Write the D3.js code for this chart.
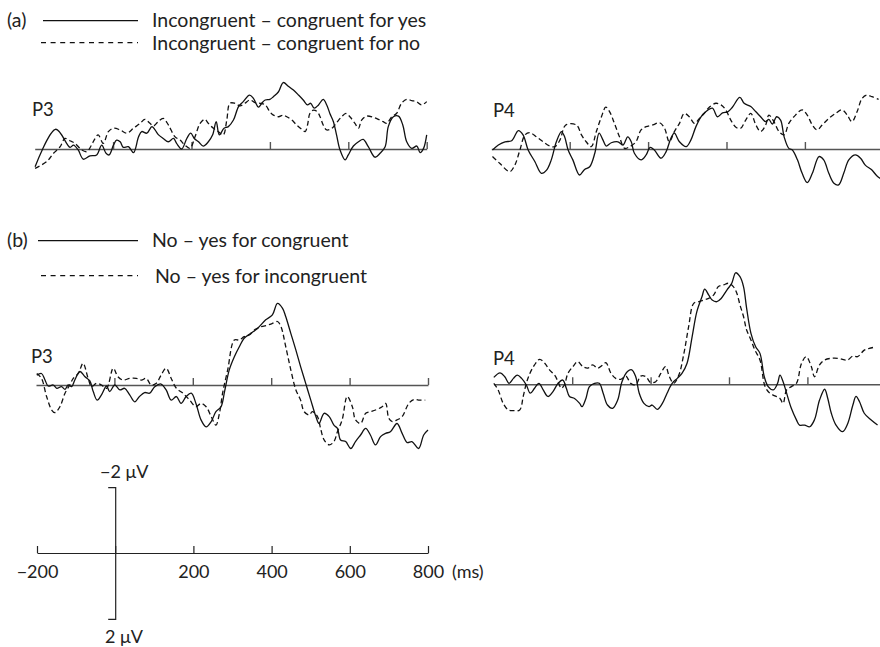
<!DOCTYPE html>
<html>
<head>
<meta charset="utf-8">
<style>
    body { margin: 0; background: #fff; }
    svg { display: block; font-family: Lato, 'Open Sans', sans-serif; }
    .wave { fill: none; stroke: #111; stroke-width: 1.3; stroke-linejoin: round; }
    .wave.dash { stroke-dasharray: 5 3; }
    .base .domain, .base .tick line { stroke: #555; stroke-width: 1.4; }
    .scale .domain, .scale .tick line { stroke: #222; stroke-width: 1.2; }
    .scale .tick text { font-size: 18px; fill: #222; font-family: Lato, sans-serif; }
</style>
</head>
<body>
<svg width="880" height="647"></svg>
<script src="https://d3js.org/d3.v7.min.js"></script>
<script>
// ERP difference waves, [ms, microvolts] (negative plotted upward)
let p3aSolid = [[-199,0.54],[-146,-0.60],[-110,-0.05],[-101,-0.12],[-89,0.03],[-76,0.31],[-59,0.21],[-42,0.18],[-29,-0.12],[-18,0.13],[-10,0.18],[1,-0.12],[9,-0.27],[18,-0.22],[26,-0.05],[39,-0.07],[52,0.11],[65,-0.37],[73,-0.53],[86,-0.48],[99,-0.68],[107,-0.58],[116,-0.43],[128,-0.32],[141,-0.22],[154,-0.32],[162,-0.17],[175,0.0],[188,-0.32],[198,-0.48],[207,-0.32],[218,-0.22],[230,-0.09],[243,-0.22],[254,-0.43],[263,-0.83],[271,-0.43],[283,-0.63],[294,-0.68],[307,-0.88],[320,-1.29],[332,-1.44],[348,-1.64],[358,-1.54],[371,-1.27],[379,-1.39],[388,-1.49],[400,-1.51],[409,-1.59],[422,-1.74],[434,-2.02],[447,-1.91],[460,-1.79],[473,-1.64],[485,-1.49],[496,-1.34],[504,-1.39],[513,-1.24],[524,-1.34],[536,-1.51],[545,-1.34],[553,-1.08],[562,-0.83],[570,-0.43],[579,0.03],[592,0.33],[600,0.18],[613,-0.09],[626,-0.22],[638,-0.29],[651,-0.07],[668,0.25],[681,0.13],[694,-0.07],[702,-0.68],[715,-0.98],[728,-1.0],[739,-0.73],[749,-0.22],[762,-0.02],[775,-0.09],[783,0.11],[792,-0.02],[800,-0.43]];
let p3aDashed = [[-199,0.59],[-169,0.38],[-152,0.13],[-135,-0.07],[-123,-0.32],[-110,-0.25],[-97,-0.17],[-80,0.03],[-67,0.08],[-55,-0.12],[-46,-0.32],[-38,-0.43],[-25,-0.17],[-12,-0.53],[1,-0.63],[18,-0.58],[35,-0.48],[52,-0.63],[69,-0.78],[81,-0.90],[94,-0.78],[103,-0.70],[115,-0.83],[128,-0.93],[141,-0.73],[158,-0.37],[171,-0.27],[183,-0.12],[196,-0.02],[209,-0.37],[222,-0.78],[234,-0.90],[243,-0.78],[256,-0.63],[268,-0.53],[281,-0.43],[290,-0.88],[298,-1.39],[311,-1.39],[324,-1.31],[336,-1.39],[349,-1.49],[362,-1.41],[375,-1.39],[388,-1.34],[400,-1.13],[409,-1.03],[422,-0.98],[434,-1.03],[443,-0.98],[456,-0.88],[468,-0.73],[481,-0.60],[490,-0.53],[496,-0.73],[502,-1.08],[511,-1.18],[521,-1.13],[528,-0.98],[536,-0.73],[545,-0.58],[558,-0.63],[570,-0.80],[583,-0.98],[594,-1.08],[604,-0.98],[617,-0.78],[626,-0.63],[634,-0.88],[647,-1.0],[664,-0.96],[677,-0.90],[689,-0.83],[698,-0.78],[711,-0.98],[723,-1.08],[736,-1.39],[749,-1.51],[762,-1.47],[774,-1.44],[787,-1.34],[800,-1.44]];
let p4aSolid = [[-197,0.03],[-182,-0.12],[-165,-0.22],[-148,-0.25],[-131,-0.56],[-119,-0.43],[-106,0.03],[-89,0.38],[-72,0.74],[-59,0.64],[-47,0.33],[-34,-0.22],[-21,-0.53],[-13,-0.37],[-4,0.03],[8,0.33],[25,0.79],[38,0.62],[51,0.54],[64,0.13],[75,-0.48],[85,-0.27],[93,-0.09],[106,-0.19],[123,-0.22],[136,-0.12],[148,-0.37],[157,-0.22],[165,0.13],[182,0.33],[195,0.18],[205,-0.05],[216,0.03],[233,0.28],[246,0.08],[258,-0.32],[267,-0.48],[280,-0.22],[297,-0.07],[309,-0.27],[322,-0.68],[335,-0.98],[347,-1.13],[364,-1.24],[377,-0.98],[390,-1.10],[403,-1.13],[415,-1.27],[434,-1.57],[445,-1.39],[462,-1.29],[475,-1.13],[487,-0.98],[500,-0.83],[508,-0.90],[517,-0.76],[528,-0.98],[538,-0.88],[547,-0.37],[559,-0.02],[568,0.03],[581,0.33],[593,0.74],[606,1.02],[619,0.74],[636,0.23],[648,0.33],[661,0.74],[674,1.04],[686,1.09],[699,0.74],[712,0.33],[729,0.18],[742,0.28],[754,0.49],[771,0.64],[784,0.82],[800,0.95]];
let p4aDashed = [[-197,0.23],[-178,0.44],[-153,0.69],[-140,0.49],[-127,0.03],[-114,-0.43],[-102,-0.50],[-85,-0.37],[-68,-0.22],[-51,-0.09],[-38,-0.07],[-25,-0.27],[-10,-0.73],[17,-0.73],[30,-0.43],[42,-0.22],[55,-0.07],[68,-0.53],[81,-0.98],[92,-1.27],[102,-1.13],[114,-0.78],[127,-0.37],[140,-0.02],[153,-0.07],[169,-0.22],[182,-0.58],[195,-0.68],[212,-0.73],[229,-0.80],[242,-0.63],[254,-0.22],[267,-0.53],[280,-0.78],[292,-1.08],[305,-0.98],[318,-0.78],[331,-0.93],[343,-1.08],[356,-1.27],[373,-1.39],[386,-1.34],[398,-1.19],[411,-0.88],[424,-0.66],[436,-0.63],[449,-0.88],[462,-1.08],[475,-0.73],[487,-0.53],[500,-0.73],[508,-1.03],[521,-0.83],[534,-0.53],[547,-0.43],[559,-0.78],[576,-1.03],[593,-1.19],[606,-1.03],[619,-0.73],[631,-0.58],[644,-0.73],[661,-0.93],[678,-1.08],[695,-1.19],[708,-1.03],[720,-0.83],[733,-1.13],[746,-1.54],[758,-1.64],[771,-1.59],[788,-1.51]];
let p3bSolid = [[-198,-0.30],[-186,-0.35],[-177,-0.15],[-169,0.03],[-156,0],[-147,0.10],[-135,0.05],[-126,0.13],[-118,0],[-109,0.05],[-101,-0.15],[-88,-0.41],[-75,-0.25],[-63,-0.13],[-54,0.20],[-44,0.46],[-33,0.30],[-20,0.03],[-12,0.20],[1,0],[14,0.15],[26,0.10],[39,0.30],[52,0.51],[64,0.35],[77,0.23],[90,0.25],[103,0.05],[119,-0.03],[132,0.15],[145,0.46],[158,0.35],[170,0.56],[183,0.35],[196,0.25],[208,0.56],[221,1.06],[234,1.27],[247,1.11],[259,0.81],[272,0.66],[281,0.20],[293,-0.46],[306,-0.86],[319,-1.17],[331,-1.42],[348,-1.57],[365,-1.72],[386,-1.98],[403,-2.13],[416,-2.48],[429,-2.33],[437,-2.08],[450,-1.57],[463,-1.06],[475,-0.56],[488,-0.05],[501,0.46],[514,0.96],[522,1.17],[535,0.86],[548,0.96],[560,1.22],[569,1.32],[577,1.67],[590,1.72],[603,1.93],[615,1.72],[628,1.52],[641,1.32],[653,1.52],[666,1.82],[679,1.57],[692,1.47],[704,1.42],[721,1.17],[734,1.47],[747,1.75],[759,1.72],[776,1.93],[789,1.52],[800,1.37]];
let p3bDashed = [[-198,-0.35],[-186,-0.20],[-173,0.35],[-160,0.76],[-152,0.84],[-139,0.66],[-126,0.25],[-114,0],[-105,-0.20],[-92,-0.35],[-80,-0.66],[-67,-0.20],[-58,0.05],[-46,-0.05],[-33,0],[-20,0.10],[-3,-0.51],[9,-0.25],[22,-0.15],[39,-0.20],[56,-0.20],[69,-0.15],[81,-0.20],[94,0],[107,-0.05],[119,-0.30],[132,-0.51],[145,-0.20],[158,0.10],[175,0.25],[192,0.46],[208,0.66],[221,0.56],[234,0.66],[247,0.96],[259,1.22],[268,0.86],[276,0.25],[289,-0.46],[306,-1.37],[319,-1.37],[331,-1.47],[344,-1.52],[357,-1.67],[374,-1.77],[391,-1.82],[403,-1.87],[416,-1.93],[425,-1.77],[437,-1.17],[450,-0.46],[463,0.15],[475,0.46],[484,0.81],[497,0.91],[505,0.81],[518,0.96],[526,1.32],[535,1.67],[548,1.82],[560,1.72],[569,1.42],[581,1.06],[594,0.35],[607,0.66],[615,1.06],[628,1.17],[641,0.86],[653,0.81],[666,0.76],[683,0.66],[692,0.56],[700,1.01],[709,1.11],[721,1.06],[734,0.96],[751,0.56],[764,0.44],[776,0.46],[793,0.46]];
let p4bSolid = [[-200,-0.21],[-184,-0.35],[-172,-0.23],[-161,-0.03],[-150,-0.18],[-140,-0.28],[-129,-0.18],[-117,0.02],[-107,0.27],[-96,0.12],[-85,-0.03],[-74,0.17],[-62,0.37],[-49,0.22],[-36,-0.03],[-24,-0.13],[-15,0.12],[-7,0.37],[6,0.43],[19,0.58],[25,0.68],[35,0.43],[44,0.07],[57,-0.03],[69,-0.03],[79,0.27],[90,0.63],[103,0.73],[116,0.48],[127,-0.08],[141,-0.39],[152,-0.44],[162,-0.23],[171,0.27],[183,0.58],[196,0.68],[204,0.63],[217,0.76],[230,0.58],[242,0.27],[255,-0.03],[268,-0.18],[280,-0.33],[293,-0.64],[306,-1.45],[318,-2.21],[331,-2.66],[338,-2.89],[348,-2.72],[357,-2.56],[369,-2.51],[380,-2.61],[395,-2.87],[407,-3.07],[417,-3.39],[428,-3.27],[437,-2.97],[445,-2.31],[456,-1.55],[468,-1.14],[479,-0.94],[490,-0.23],[500,0.07],[513,0.17],[524,-0.03],[530,-0.28],[538,-0.08],[547,0.27],[559,0.73],[572,1.08],[580,1.24],[593,1.24],[606,1.29],[618,1.08],[631,0.48],[644,0.15],[652,0.43],[661,0.88],[673,1.24],[690,1.44],[703,1.19],[716,0.63],[724,0.37],[733,0.53],[745,0.88],[762,1.08],[779,1.24]];
let p4bDashed = [[-200,-0.03],[-189,0.17],[-176,0.58],[-163,0.78],[-150,0.80],[-134,0.78],[-125,0.37],[-117,-0.03],[-108,-0.33],[-96,-0.59],[-83,-0.76],[-70,-0.64],[-58,-0.44],[-45,-0.28],[-36,-0.08],[-28,0.12],[-20,0.02],[-11,-0.33],[2,-0.54],[14,-0.69],[27,-0.54],[40,-0.49],[52,-0.59],[65,-0.49],[78,-0.59],[86,-0.66],[99,-0.33],[111,-0.18],[124,-0.15],[137,-0.25],[149,-0.03],[162,0.02],[175,-0.25],[188,-0.23],[200,-0.05],[213,-0.08],[226,-0.33],[238,-0.54],[248,-0.23],[259,-0.03],[272,-0.28],[285,-0.94],[297,-1.75],[310,-2.46],[323,-2.51],[335,-2.56],[348,-2.61],[361,-2.72],[373,-2.97],[386,-3.02],[399,-3.07],[411,-2.97],[420,-2.77],[428,-2.41],[437,-2.06],[445,-1.65],[456,-1.35],[466,-1.04],[479,-0.74],[492,0.07],[504,0.27],[517,0.35],[530,0.43],[538,0.58],[547,0.17],[559,0.07],[572,-0.03],[585,-0.64],[597,-0.84],[610,-0.54],[618,-0.23],[631,-0.59],[644,-0.74],[661,-0.79],[678,-0.79],[695,-0.74],[703,-0.74],[716,-0.86],[728,-0.84],[745,-1.04],[758,-1.09],[775,-1.14]];

let panelTicks = [0, 200, 400, 600, 800];
let scaleTicks = [-200, 0, 200, 400, 600, 800];
let scaleVolts = [-2, 2];
let legendA = ["Incongruent \u2013 congruent for yes", "Incongruent \u2013 congruent for no"];
let legendB = ["No \u2013 yes for congruent", "No \u2013 yes for incongruent"];

let svg = d3.select("svg");
let pxPerUV = 32.9;
let spanPx = 392;

function drawPanel(name, solid, dashed, x0, base, labelX, labelY) {
    let x = d3.scaleLinear().domain([-200, 800]).range([x0, x0 + spanPx]);
    let y = d3.scaleLinear().domain([0, 1]).range([base, base + pxPerUV]);

    svg.append("g")
        .attr("class", "base")
        .attr("transform", `translate(0,${base})`)
        .call(d3.axisTop(x).tickValues(panelTicks).tickSize(7).tickSizeOuter(0).tickFormat(""));

    let line = d3.line()
        .x(d => x(d[0]))
        .y(d => y(d[1]))
        .curve(d3.curveCatmullRom.alpha(0.5));

    svg.append("path").attr("class", "wave").attr("d", line(solid));
    svg.append("path").attr("class", "wave dash").attr("d", line(dashed));

    svg.append("text")
        .attr("x", labelX).attr("y", labelY)
        .style("font-size", "18.5px").style("fill", "#222")
        .text(name);
}

drawPanel("P3", p3aSolid, p3aDashed, 34.7, 149, 32, 116);
drawPanel("P4", p4aSolid, p4aDashed, 491.3, 149, 493, 117);
drawPanel("P3", p3bSolid, p3bDashed, 36, 385, 31, 363);
drawPanel("P4", p4bSolid, p4bDashed, 493.8, 384.3, 493, 365);

// legends
function drawLegend(tag, labels, y0, x1, gap, textX) {
    let fs = "19.5px";
    svg.append("text").attr("x", 7).attr("y", y0 + 6.5).style("font-size", fs).style("fill", "#222").text(tag);
    svg.append("line").attr("x1", x1).attr("x2", 138).attr("y1", y0).attr("y2", y0)
        .style("stroke", "#111").style("stroke-width", 1.2);
    svg.append("line").attr("x1", 41).attr("x2", 138).attr("y1", y0 + gap).attr("y2", y0 + gap)
        .style("stroke", "#111").style("stroke-width", 1.2).style("stroke-dasharray", "5 4.6");
    svg.append("text").attr("x", textX[0]).attr("y", y0 + 6.5).style("font-size", fs).style("fill", "#222").text(labels[0]);
    svg.append("text").attr("x", textX[1]).attr("y", y0 + gap + 7.5).style("font-size", fs).style("fill", "#222").text(labels[1]);
}
drawLegend("(a)", legendA, 20.7, 43, 22, [152, 152]);
drawLegend("(b)", legendB, 240.7, 38, 35, [152, 155]);

// calibration scale
let sx = d3.scaleLinear().domain([-200, 800]).range([37, 428]);
let sy = d3.scaleLinear().domain([-2, 2]).range([553 - 2 * pxPerUV, 553 + 2 * pxPerUV]);

svg.append("g")
    .attr("class", "scale")
    .attr("transform", "translate(0,553)")
    .call(d3.axisBottom(sx).tickValues(scaleTicks).tickSize(-7).tickSizeOuter(0).tickPadding(12)
        .tickFormat(d => d === 0 ? "" : (d < 0 ? "\u2212" + Math.abs(d) : d)));

svg.append("g")
    .attr("class", "scale")
    .attr("transform", `translate(${sx(0)},0)`)
    .call(d3.axisLeft(sy).tickValues([]).tickSizeOuter(7));

svg.append("text").attr("x", 452).attr("y", 578).style("font-size", "18px").style("fill", "#222").text("(ms)");
svg.append("text").attr("x", 100).attr("y", 477.5).style("font-size", "18px").style("fill", "#222")
    .text("\u2212" + Math.abs(scaleVolts[0]) + " \u03bcV");
svg.append("text").attr("x", 105).attr("y", 643).style("font-size", "18px").style("fill", "#222")
    .text(scaleVolts[1] + " \u03bcV");
</script>
</body>
</html>
